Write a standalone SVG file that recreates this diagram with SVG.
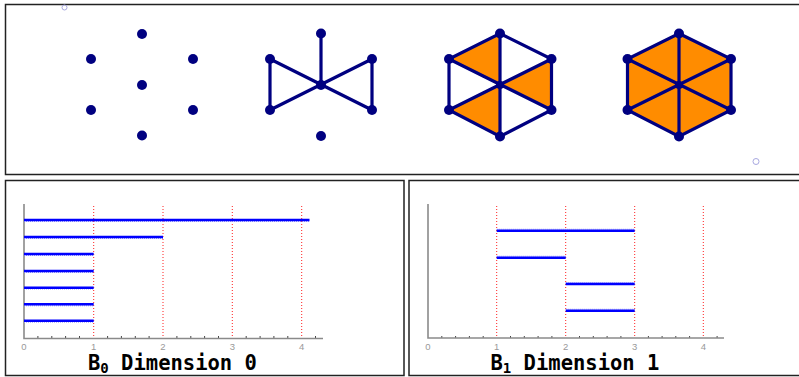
<svg xmlns="http://www.w3.org/2000/svg" width="799" height="377" viewBox="0 0 799 377">
<defs>
<style>
.panel{fill:#fff;stroke:#222;stroke-width:1.5}
.edge{stroke:#000080;stroke-width:3.2;stroke-linecap:round;fill:none}
.dot{fill:#000080}
.tri{fill:#ff8c00;stroke:none}
.axis{stroke:#8a8a8a;stroke-width:1.6;fill:none}
.grid{stroke:#ff2020;stroke-width:1;stroke-dasharray:1 2;fill:none}
.bar{stroke:#0000ff;stroke-width:2.6;fill:none}
.bard{stroke:#9a9aff;stroke-width:1;stroke-dasharray:1 1;fill:none}
.tick{stroke:#444;stroke-width:1;fill:none}
.tl{font-family:"Liberation Sans",Arial,sans-serif;font-size:9.5px;fill:#999;text-anchor:middle}
.title{font-family:"DejaVu Sans Mono",monospace;font-weight:bold;font-size:20.5px;fill:#000}
.ring{fill:none;stroke:#a8a8e0;stroke-width:1}
</style>
</defs>
<rect width="799" height="377" fill="#fff"/>
<g id="panel-top"><rect class="panel" x="5.5" y="4.5" width="800" height="170"/></g>
<g id="panel-b0"><rect class="panel" x="5.5" y="180.5" width="398.5" height="195"/></g>
<g id="panel-b1"><rect class="panel" x="409" y="180.5" width="400" height="195"/></g>
<g id="marks"><circle class="ring" cx="64.5" cy="7.5" r="2.5"/><circle class="ring" cx="756" cy="161.5" r="3"/></g>

<g id="complex-1">
<circle class="dot" cx="142" cy="34" r="5"/>
<circle class="dot" cx="91" cy="59" r="5"/>
<circle class="dot" cx="193" cy="59" r="5"/>
<circle class="dot" cx="142" cy="85" r="5"/>
<circle class="dot" cx="91" cy="110" r="5"/>
<circle class="dot" cx="193" cy="110" r="5"/>
<circle class="dot" cx="142" cy="135.5" r="5"/>
</g>

<g id="complex-2">
<path class="edge" d="M321 33.5V85M270 59L372 110M270 110L372 59M270 59V110M372 59V110"/>
<circle class="dot" cx="321" cy="33.5" r="5"/>
<circle class="dot" cx="270" cy="59" r="5"/>
<circle class="dot" cx="372" cy="59" r="5"/>
<circle class="dot" cx="321" cy="85" r="5"/>
<circle class="dot" cx="270" cy="110" r="5"/>
<circle class="dot" cx="372" cy="110" r="5"/>
<circle class="dot" cx="321" cy="136" r="5"/>
</g>

<g id="complex-3">
<polygon class="tri" points="500,33.5 449,59 500,85"/>
<polygon class="tri" points="551.5,59 551.5,110 500,85"/>
<polygon class="tri" points="449,110 500,136.5 500,85"/>
<path class="edge" d="M500 33.5L551.5 59L551.5 110L500 136.5L449 110L449 59ZM500 33.5V136.5M449 59L551.5 110M449 110L551.5 59"/>
<circle class="dot" cx="500" cy="33.5" r="5"/>
<circle class="dot" cx="449" cy="59" r="5"/>
<circle class="dot" cx="551.5" cy="59" r="5"/>
<circle class="dot" cx="500" cy="85" r="4"/>
<circle class="dot" cx="449" cy="110" r="5"/>
<circle class="dot" cx="551.5" cy="110" r="5"/>
<circle class="dot" cx="500" cy="136.5" r="5"/>
</g>

<g id="complex-4">
<polygon class="tri" points="679,33.5 731,59 731,110 679,136.5 627.5,110 627.5,59"/>
<path class="edge" d="M679 33.5L731 59L731 110L679 136.5L627.5 110L627.5 59ZM679 33.5V136.5M627.5 59L731 110M627.5 110L731 59"/>
<circle class="dot" cx="679" cy="33.5" r="5"/>
<circle class="dot" cx="627.5" cy="59" r="5"/>
<circle class="dot" cx="731" cy="59" r="5"/>
<circle class="dot" cx="679" cy="85" r="4"/>
<circle class="dot" cx="627.5" cy="110" r="5"/>
<circle class="dot" cx="731" cy="110" r="5"/>
<circle class="dot" cx="679" cy="136.5" r="5"/>
</g>

<g id="chart-b0">
<path class="grid" d="M93.7 206V338M163 206V338M232.3 206V338M301.7 206V338"/>
<path class="tick" d="M37.9 336V338M51.8 336V338M65.6 336V338M79.5 336V338M107.6 336V338M121.4 336V338M135.3 336V338M149.1 336V338M176.9 336V338M190.8 336V338M204.6 336V338M218.5 336V338M246.2 336V338M260.1 336V338M273.9 336V338M287.8 336V338M315.5 336V338"/>
<path class="axis" d="M24 204V338.5H323"/>
<path class="bard" d="M24 221.5H309.5M24 238.5H163M24 255.5H93.7M24 272.5H93.7M24 289H93.7M24 305.8H93.7M24 322.2H93.7"/>
<path class="bar" d="M24 220H309.5M24 237H163M24 254H93.7M24 271H93.7M24 287.7H93.7M24 304.3H93.7M24 320.7H93.7"/>
<text class="tl" x="24" y="350">0</text>
<text class="tl" x="93.7" y="350">1</text>
<text class="tl" x="163" y="350">2</text>
<text class="tl" x="232.3" y="350">3</text>
<text class="tl" x="301.7" y="350">4</text>
<text class="title" x="88" y="370">B<tspan font-size="14" dy="3">0</tspan><tspan dy="-3"> Dimension 0</tspan></text>
</g>

<g id="chart-b1">
<path class="grid" d="M496.7 206V338M565.7 206V338M634.7 206V338M703.3 206V338"/>
<path class="tick" d="M441.8 336V338M455.6 336V338M469.4 336V338M483.2 336V338M510.5 336V338M524.3 336V338M538.1 336V338M551.9 336V338M579.5 336V338M593.3 336V338M607.1 336V338M620.9 336V338M648.4 336V338M662.1 336V338M675.8 336V338M689.6 336V338M717.1 336V338"/>
<path class="axis" d="M428 204V338H724"/>
<path class="bard" d="M496.7 229.2H634.7M496.7 256.2H565.7M565.7 282.5H634.7M565.7 309.2H634.7"/>
<path class="bar" d="M496.7 230.7H634.7M496.7 257.7H565.7M565.7 284H634.7M565.7 310.7H634.7"/>
<text class="tl" x="428" y="350">0</text>
<text class="tl" x="496.7" y="350">1</text>
<text class="tl" x="565.7" y="350">2</text>
<text class="tl" x="634.7" y="350">3</text>
<text class="tl" x="703.3" y="350">4</text>
<text class="title" x="490.5" y="370">B<tspan font-size="14" dy="3">1</tspan><tspan dy="-3"> Dimension 1</tspan></text>
</g>
</svg>
